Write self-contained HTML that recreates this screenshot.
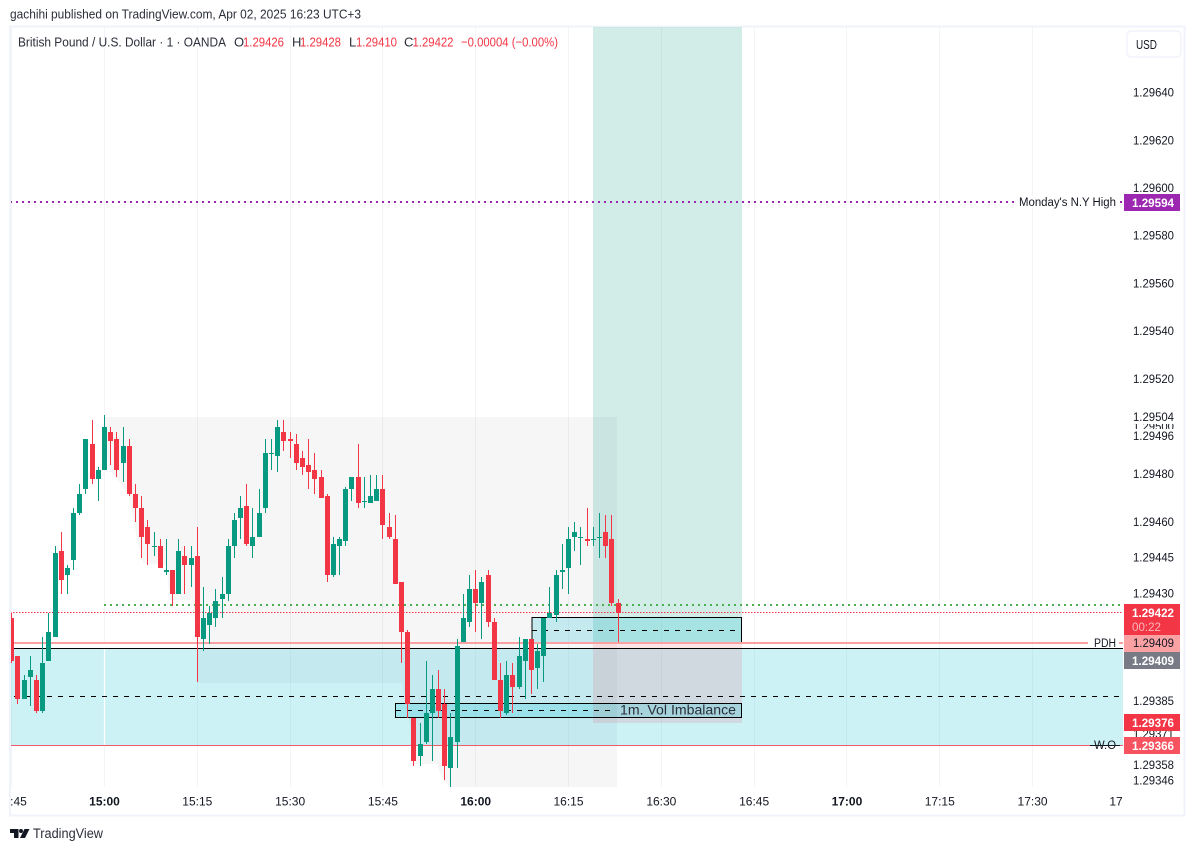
<!DOCTYPE html>
<html lang="en">
<head>
<meta charset="utf-8">
<title>GBP/USD 1m chart</title>
<style>
html,body{margin:0;padding:0;background:#fff;width:1195px;height:851px;overflow:hidden}
svg{display:block;font-family:"Liberation Sans",sans-serif}
text{fill:#131722;font-size:11.5px}
.tag{font-weight:bold;fill:#fff}
</style>
</head>
<body>
<svg id="chart" width="1195" height="851" viewBox="0 0 1195 851" xmlns="http://www.w3.org/2000/svg">
  <defs><clipPath id="pane-clip"><rect x="11" y="27" width="1112" height="760"/></clipPath></defs>

  <text x="10" y="18.5" textLength="351" lengthAdjust="spacingAndGlyphs" style="font-size:13px;fill:#2a2e39">gachihi published on TradingView.com, Apr 02, 2025 16:23 UTC+3</text>
  <rect x="10" y="26.5" width="1174.5" height="789" fill="none" stroke="#f0f3fa" stroke-width="2"/>

  <g id="grid"></g>

  <g id="drawings" clip-path="url(#pane-clip)">
    <polygon fill="rgba(120,123,134,0.065)" points="104,417 617,417 617,787 449,787 441,775 437,764 414,764 410,725 402,683 198,683 196,630 192,600 170,600 168,583 167,565 143,563 138,543 128,493 110,470 104,440"/>
    <rect x="10" y="649" width="1113" height="96" fill="rgba(0,188,212,0.2)"/>
    <rect x="593" y="27" width="149" height="616" fill="rgba(8,153,129,0.18)"/>
    <rect x="593" y="643" width="149" height="80" fill="rgba(242,54,69,0.13)"/>
    <path d="M532 643V617.5H741.5V643" fill="rgba(0,188,212,0.2)" stroke="#000" stroke-width="1"/>
    <rect x="395.5" y="703.5" width="346" height="14" fill="rgba(0,188,212,0.2)" stroke="#000" stroke-width="1"/>
    <line x1="532" x2="736" y1="630.5" y2="630.5" stroke="#000" stroke-dasharray="5 6"/>
    <line x1="396" x2="612" y1="710.5" y2="710.5" stroke="#000" stroke-dasharray="5 6"/>
    <line x1="104.5" x2="104.5" y1="642" y2="745" stroke="#fff" stroke-width="1.2"/>
  </g>

  <g id="levels" clip-path="url(#pane-clip)"></g>
  <g id="candles" clip-path="url(#pane-clip)"></g>

  <text x="620" y="714.5" textLength="116" lengthAdjust="spacingAndGlyphs" style="font-size:13.5px;fill:#2a2e39">1m. Vol Imbalance</text>
  <rect x="1088" y="637" width="31" height="11" fill="#fff"/>
  <text x="1094" y="647" textLength="22" lengthAdjust="spacingAndGlyphs">PDH</text>
  <text x="1094" y="749" textLength="22" lengthAdjust="spacingAndGlyphs">W.O</text>
  <line x1="1090" x2="1120" y1="745.5" y2="745.5" stroke="#131722"/>
  <rect x="1016" y="196" width="103" height="12" fill="#fff"/>
  <text x="1019" y="206" textLength="97" lengthAdjust="spacingAndGlyphs">Monday's N.Y High</text>

  <g>
    <text x="18" y="46.5" textLength="208" lengthAdjust="spacingAndGlyphs" style="font-size:13px;fill:#2a2e39">British Pound / U.S. Dollar · 1 · OANDA</text>
    <text x="234" y="46.5" style="font-size:13px;fill:#2a2e39">O</text>
    <text x="243" y="46.5" textLength="41" lengthAdjust="spacingAndGlyphs" style="font-size:13px;fill:#f23645">1.29426</text>
    <text x="292" y="46.5" style="font-size:13px;fill:#2a2e39">H</text>
    <text x="300" y="46.5" textLength="41" lengthAdjust="spacingAndGlyphs" style="font-size:13px;fill:#f23645">1.29428</text>
    <text x="349" y="46.5" style="font-size:13px;fill:#2a2e39">L</text>
    <text x="356" y="46.5" textLength="41" lengthAdjust="spacingAndGlyphs" style="font-size:13px;fill:#f23645">1.29410</text>
    <text x="404" y="46.5" style="font-size:13px;fill:#2a2e39">C</text>
    <text x="412.5" y="46.5" textLength="41" lengthAdjust="spacingAndGlyphs" style="font-size:13px;fill:#f23645">1.29422</text>
    <text x="461" y="46.5" textLength="97" lengthAdjust="spacingAndGlyphs" style="font-size:13px;fill:#f23645">−0.00004 (−0.00%)</text>
  </g>

  <g>
    <rect x="1127" y="31" width="54" height="26" rx="4" fill="#fff" stroke="#f0f3fa" stroke-width="1.5"/>
    <text x="1136" y="49" textLength="21" lengthAdjust="spacingAndGlyphs" style="font-size:12.5px">USD</text>
  </g>

  <g id="price-axis"></g>

  <g>
    <rect x="1124" y="194" width="56" height="17" fill="#9c27b0"/>
    <text class="tag" x="1132" y="207" textLength="42" lengthAdjust="spacingAndGlyphs" style="fill:#fff">1.29594</text>
    <rect x="1124" y="604" width="56" height="31" fill="#f23645"/>
    <text class="tag" x="1132" y="617" textLength="42" lengthAdjust="spacingAndGlyphs" style="fill:#fff">1.29422</text>
    <text x="1132" y="631" textLength="29" lengthAdjust="spacingAndGlyphs" style="fill:#fbb7bc">00:22</text>
    <rect x="1124" y="635" width="56" height="17" fill="#faa1a4"/>
    <text x="1133" y="647" textLength="41" lengthAdjust="spacingAndGlyphs">1.29409</text>
    <rect x="1124" y="652" width="56" height="17" fill="#787b86"/>
    <text class="tag" x="1132" y="665" textLength="42" lengthAdjust="spacingAndGlyphs" style="fill:#fff">1.29409</text>
    <rect x="1124" y="714" width="56" height="17" fill="#f23645"/>
    <text class="tag" x="1132" y="727" textLength="42" lengthAdjust="spacingAndGlyphs" style="fill:#fff">1.29376</text>
    <rect x="1124" y="737" width="56" height="17" fill="#f7525f"/>
    <text class="tag" x="1132" y="750" textLength="42" lengthAdjust="spacingAndGlyphs" style="fill:#fff">1.29366</text>
  </g>

  <g id="time-axis"></g>

  <g>
    <path d="M10 829H18.5V838H14V833H10Z" fill="#131722"/>
    <circle cx="21" cy="831" r="2" fill="#131722"/>
    <polygon points="24.5,829 29.5,829 25,838 20,838" fill="#131722"/>
    <text x="33" y="838" textLength="70" lengthAdjust="spacingAndGlyphs" style="font-size:13.5px;fill:#2a2e39">TradingView</text>
  </g>
</svg>

<script>
// Prices are stored in 0.00001 units (129426 = 1.29426); first candle is 14:45, one per minute.
const opens = [129420,129404,129386,129395,129394,129381,129402,129412,129448,129438,129444,129464,129474,129493,129478,129482,129498,129495,129485,129492,129472,129466,129458,129450,129450,129439,129440,129430,129446,129442,129446,129411,129417,129420,129428,129430,129450,129462,129467,129450,129454,129466,129489,129488,129498,129495,129493,129487,129484,129482,129479,129471,129438,129450,129452,129474,129479,129469,129468,129469,129474,129458,129453,129435,129414,129378,129362,129368,129380,129390,129384,129357,129368,129410,129418,129432,129426,129438,129418,129394,129380,129396,129391,129402,129411,129399,129404,129420,129421,129439,129441,129454,129454,129453,129453,129454,129456,129453,129426];
const highs = [129422,129404,129396,129404,129396,129412,129422,129450,129456,129442,129466,129476,129495,129503,129483,129505,129500,129498,129500,129495,129476,129471,129461,129456,129453,129453,129440,129453,129450,129450,129458,129433,129425,129432,129437,129453,129464,129471,129476,129466,129474,129495,129495,129503,129503,129498,129497,129490,129495,129489,129482,129472,129454,129454,129475,129479,129493,129479,129480,129480,129480,129464,129463,129435,129415,129378,129376,129402,129396,129398,129390,129380,129411,129430,129438,129440,129437,129440,129420,129401,129402,129401,129412,129411,129411,129409,129420,129433,129440,129451,129458,129460,129458,129466,129458,129464,129463,129463,129428];
const lows = [129401,129384,129386,129383,129380,129380,129402,129412,129430,129430,129440,129463,129472,129476,129469,129482,129484,129479,129477,129471,129460,129445,129442,129446,129441,129438,129425,129430,129430,129433,129393,129406,129409,129416,129420,129427,129445,129453,129450,129445,129454,129464,129482,129481,129490,129487,129482,129480,129474,129472,129470,129435,129437,129438,129450,129469,129466,129466,129468,129469,129453,129453,129434,129401,129378,129358,129358,129367,129360,129378,129352,129349,129357,129410,129416,129414,129411,129416,129394,129378,129379,129380,129390,129386,129388,129390,129393,129420,129418,129432,129430,129448,129442,129450,129450,129445,129445,129425,129410];
const closes = [129402,129386,129394,129398,129381,129401,129414,129447,129436,129441,129464,129472,129495,129478,129482,129500,129494,129482,129492,129472,129466,129454,129451,129450,129441,129440,129430,129448,129442,129445,129412,129420,129422,129427,129430,129450,129461,129466,129451,129454,129464,129489,129489,129500,129494,129494,129485,129483,129481,129478,129470,129438,129451,129453,129474,129479,129468,129469,129471,129474,129459,129454,129434,129414,129384,129360,129367,129380,129390,129381,129358,129370,129408,129420,129432,129426,129435,129418,129394,129381,129396,129391,129404,129411,129398,129406,129420,129422,129438,129440,129453,129456,129454,129452,129453,129454,129450,129426,129422];

const priceTicks = [129640,129620,129600,129580,129560,129540,129520,129500,129504,129496,129480,129460,129445,129430,129385,129371,129358,129346];
const timeLabels = [":45","15:00","15:15","15:30","15:45","16:00","16:15","16:30","16:45","17:00","17:15","17:30","17"];
const timeBars = [0,15,30,45,60,75,90,105,120,135,150,165,179];
const boldTimes = ["15:00","16:00","17:00"];

const nyHighLevel = 129594.3;
const pdhLevel = 129409.4;
const zoneTopLevel = 129407.3;
const midLevel = 129387;
const greenLevel = 129425.2;
const lastPriceLevel = 129422.4;
const zoneBottomLevel = 129366.5;

const NS = 'http://www.w3.org/2000/svg';
function yScale(p){ return 93 + (129640 - p) * 2.385; }
function xScale(i){ return 11.7 + 6.187 * i; }
function make(tag, attrs, parent){
  const el = document.createElementNS(NS, tag);
  for (const k in attrs) el.setAttribute(k, attrs[k]);
  parent.appendChild(el);
  return el;
}

// grid (the clipped trailing "17" label has no visible gridline)
const gridG = document.getElementById('grid');
timeBars.slice(0, -1).forEach(function(b){
  const gx = Math.floor(xScale(b)) + 0.5;
  const el = make('line', {x1:gx, x2:gx, y1:27, y2:787, stroke:'#f3f4f7'}, gridG);
  
  
});

// horizontal levels
const levelsG = document.getElementById('levels');
function level(name, price, x1, x2, stroke, width, dash){
  const ly = Math.round(yScale(price)) + (width % 2 ? 0.5 : 0);
  const el = make('line', {x1:x1, x2:x2, y1:ly, y2:ly, stroke:stroke, 'stroke-width':width}, levelsG);
  if (dash) el.setAttribute('stroke-dasharray', dash);
  
  
}
level('monday-ny-high-line', nyHighLevel, 10, 1123, '#9c27b0', 2, '2 4');
level('pdh-line', pdhLevel, 11, 1123, '#faa1a4', 2);
level('zone-top-line', zoneTopLevel, 14, 1123, '#000000', 1);
level('zone-mid-dashed-line', midLevel, 14, 1121, '#000000', 1, '5 6');
level('entry-dotted-line', greenLevel, 104, 1123, '#4caf50', 2, '2 4');
level('last-price-line', lastPriceLevel, 10, 1123, '#f23645', 1, '1.5 1.5');
level('zone-bottom-line', zoneBottomLevel, 10, 1123, '#ef5b68', 1);

// candles
const candlesG = document.getElementById('candles');
opens.forEach(function(o, i){
  const c = closes[i];
  const color = c >= o ? '#089981' : '#f23645';
  const left = Math.round(xScale(i) - 2.5);
  const g = make('g', {}, candlesG);
  
  
  const top = Math.round(yScale(Math.max(o, c)));
  const bottom = Math.round(yScale(Math.min(o, c)));
  const hi = Math.round(yScale(highs[i]));
  const lo = Math.round(yScale(lows[i]));
  const wick = make('rect', {x:left + 2, y:hi, width:1, height:Math.max(lo - hi, 1), fill:color}, g);
  
  
  const body = make('rect', {x:left, y:top, width:5, height:Math.max(bottom - top, 1), fill:color}, g);
  
  
});

// price axis
const axisG = document.getElementById('price-axis');
priceTicks.forEach(function(p){
  const ty = Math.min(yScale(p), 781) + 3.6;
  const wide = p === 129504 || p === 129496;
  if (wide) {
    const bg = make('rect', {x:1130, y:ty - 11, width:46, height:14, fill:'#fff'}, axisG);
    
    
  }
  const t = make('text', {x:1133, y:ty, textLength:41, lengthAdjust:'spacingAndGlyphs'}, axisG);
  t.textContent = (p / 100000).toFixed(5);
  
  
});

// time axis
const timeG = document.getElementById('time-axis');
timeLabels.forEach(function(label, i){
  const bold = boldTimes.indexOf(label) >= 0;
  const cx = i === 0 ? 18.5 : (i === timeLabels.length - 1 ? 1116 : xScale(timeBars[i]));
  const t = make('text', {x:cx, y:805.5, 'text-anchor':'middle'}, timeG);
  t.style.fontSize = '12px';
  if (bold) t.style.fontWeight = 'bold';
  t.textContent = label;
  
  
});
</script>
</body>
</html>
